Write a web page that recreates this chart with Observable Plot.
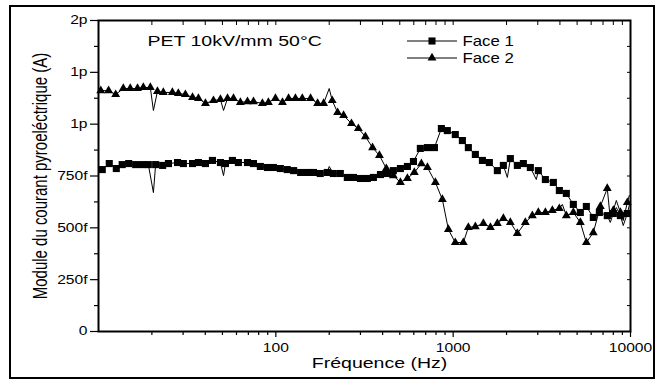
<!DOCTYPE html>
<html><head><meta charset="utf-8">
<script src="https://cdn.jsdelivr.net/npm/d3@7"></script>
<script src="https://cdn.jsdelivr.net/npm/@observablehq/plot@0.6"></script>
<style>
body{margin:0;background:#fff;}
#wrap{position:relative;width:665px;height:380px;overflow:hidden;}
#border{position:absolute;left:9px;top:5px;width:642px;height:370px;border:2px solid #000;pointer-events:none;}
</style></head><body>
<div id="wrap"><div id="chart"></div><div id="border"></div></div>
<script>
// Frequencies in Hz, currents in fA
const face1Freq = [10.5,11.5,12.6,13.6,14.8,16.2,17.7,19.1,21.0,23.0,24.8,27.9,30.1,33.9,36.6,40.1,43.9,48.7,52.0,56.9,61.5,69.2,74.8,81.8,89.7,96.9,106,116,126,138,151,163,178,195,211,231,253,274,300,328,355,389,426,460,504,552,597,653,716,784,858,927,1028,1127,1218,1334,1462,1600,1775,1919,2101,2301,2488,2724,3022,3311,3673,3970,4346,4761,5214,5637,6169,6674,7396,8000,8770,9594];
const face1Val = [781,810,786,805,810,805,805,805,805,801,810,815,810,810,815,810,825,815,810,825,815,815,810,796,791,791,786,781,776,767,767,767,762,767,762,762,743,743,738,738,743,757,762,776,786,796,820,883,887,887,979,969,950,921,887,854,825,815,776,801,834,801,810,791,776,733,719,680,666,613,574,603,550,574,559,569,559,569];
const face1SpikeFreq = [20.4,50.7,200,2021,2944,7691,8318,9100,9843];
const face1SpikeVal = [670,752,796,743,733,526,598,511,608];

const face2Freq = [10.3,11.4,12.5,13.8,15.1,16.6,17.9,19.6,21.5,23.2,26.1,28.2,30.9,33.9,36.6,40.1,44.5,48.7,53.4,57.7,63.1,69.2,74.8,84.0,90.8,99.5,109,118,129,141,157,172,186,208,223,241,267,292,320,351,384,420,460,504,552,604,662,716,794,869,940,1028,1141,1218,1334,1480,1622,1775,1919,2101,2301,2553,2795,3022,3311,3625,3970,4346,4761,5214,5637,6169,6761,7396,8000,8770,9594];
const face2Val = [1162,1162,1143,1172,1172,1172,1177,1177,1158,1153,1153,1148,1143,1129,1124,1100,1114,1119,1124,1124,1105,1109,1109,1100,1105,1124,1105,1124,1124,1124,1124,1100,1100,1114,1056,1042,1003,979,940,887,849,786,752,719,738,767,810,791,719,637,492,429,429,502,506,521,502,521,545,526,473,526,559,574,574,584,593,559,574,526,429,477,603,690,584,574,622];
const face2SpikeFreq = [20.4,50.7,200,4127,7691,8318,9100,9843];
const face2SpikeVal = [1066,1066,1172,613,545,632,535,656];

const xMajor = [100,1000,10000];
const xMajorLabels = ["100","1000","10000"];
const xMinor = [20,30,40,50,60,70,80,90,200,300,400,500,600,700,800,900,2000,3000,4000,5000,6000,7000,8000,9000];
const yTicks = [0,250,500,750,1000,1250,1500];
const yTickLabels = ["0","250f","500f","750f","1p","1p","2p"];
const yMinor = [125,375,625,875,1125,1375];

const seriesNames = ["Face 1","Face 2"];
const title = "PET 10kV/mm 50°C";
const xLabel = "Fréquence (Hz)";
const yLabel = "Module du courant pyroeléctrique (A)";

const rows1 = face1Freq.map((f,i)=>({f, v:face1Val[i]}));
const rows2 = face2Freq.map((f,i)=>({f, v:face2Val[i]}));
const line1 = rows1.concat(face1SpikeFreq.map((f,i)=>({f, v:face1SpikeVal[i]}))).sort((a,b)=>a.f-b.f);
const line2 = rows2.concat(face2SpikeFreq.map((f,i)=>({f, v:face2SpikeVal[i]}))).sort((a,b)=>a.f-b.f);

const plot = Plot.plot({
  width:665, height:380,
  marginLeft:98, marginRight:35, marginTop:20, marginBottom:49,
  style:{fontFamily:"'Liberation Sans', Arial, sans-serif", fontSize:"12px", color:"#000", background:"transparent", overflow:"visible"},
  x:{type:"log", domain:[10,10000]},
  y:{domain:[0,1500]},
  marks:[
    Plot.line(line2, {x:"f", y:"v", stroke:"#000", strokeWidth:1}),
    Plot.line(line1, {x:"f", y:"v", stroke:"#000", strokeWidth:1}),
    Plot.dot(rows2, {x:"f", y:"v", symbol:"triangle", r:3.3, fill:"#000"}),
    Plot.dot(rows1, {x:"f", y:"v", symbol:"square", r:4, fill:"#000"}),
    Plot.frame({stroke:"#000", strokeWidth:2}),
    Plot.axisY({ticks:yTicks, tickFormat:d=>yTickLabels[yTicks.indexOf(d)], tickSize:8, tickPadding:3, label:null, strokeWidth:1.2}),
    Plot.axisY({ticks:yMinor, tickFormat:()=>"", tickSize:4, label:null, strokeWidth:1.2}),
    Plot.axisY({anchor:"right", ticks:yTicks.concat(yMinor), tickFormat:()=>"", tickSize:-4, label:null}),
    Plot.axisX({ticks:xMajor, tickFormat:d=>xMajorLabels[xMajor.indexOf(d)], tickSize:6, tickPadding:6, label:null, strokeWidth:1.2}),
    Plot.axisX({ticks:xMinor, tickFormat:()=>"", tickSize:4, label:null, strokeWidth:1.2}),
    Plot.axisX({anchor:"top", ticks:xMajor.concat(xMinor), tickFormat:()=>"", tickSize:-4, label:null}),
    Plot.text([yLabel], {frameAnchor:"left", dx:-58, rotate:-90, fontSize:15, textAnchor:"middle", lineAnchor:"middle"}),
    Plot.text([xLabel], {frameAnchor:"bottom", dx:15, dy:32, fontSize:15, textAnchor:"middle", lineAnchor:"middle"}),
    Plot.text([title], {frameAnchor:"top-left", dx:49, dy:21, textAnchor:"start", lineAnchor:"middle", fontSize:15}),
    Plot.text([seriesNames[0]], {frameAnchor:"top-left", dx:364, dy:21, textAnchor:"start", lineAnchor:"middle", fontSize:15}),
    Plot.text([seriesNames[1]], {frameAnchor:"top-left", dx:364, dy:38, textAnchor:"start", lineAnchor:"middle", fontSize:15})
  ]
});
document.getElementById("chart").append(plot);

// legend swatches
const svg = d3.select(plot);
const lg = svg.append("g");
[[41, d3.symbolSquare, 4], [58, d3.symbolTriangle, 3.3]].forEach(([y, sym, r]) => {
  lg.append("line").attr("x1",407).attr("x2",457).attr("y1",y).attr("y2",y).attr("stroke","#000").attr("stroke-width",1);
  lg.append("path").attr("d", d3.symbol(sym, r*r*Math.PI)()).attr("transform",`translate(432,${y})`).attr("fill","#000");
});

// horizontally stretched lettering as in the reference
plot.querySelectorAll("text").forEach(t => {
  const s = t.textContent;
  if (!s) return;
  if (s.startsWith("Module")) {
    const tr = t.getAttribute("transform") || "";
    t.setAttribute("transform", tr.replace("rotate", "scale(1.3,1) rotate"));
    return;
  }
  const k = s.startsWith("Face") ? 1.12 : 1.3;
  const L = t.getComputedTextLength();
  if (L > 0) {
    t.setAttribute("textLength", L*k);
    t.setAttribute("lengthAdjust", "spacingAndGlyphs");
  }
});
</script>
</body></html>
